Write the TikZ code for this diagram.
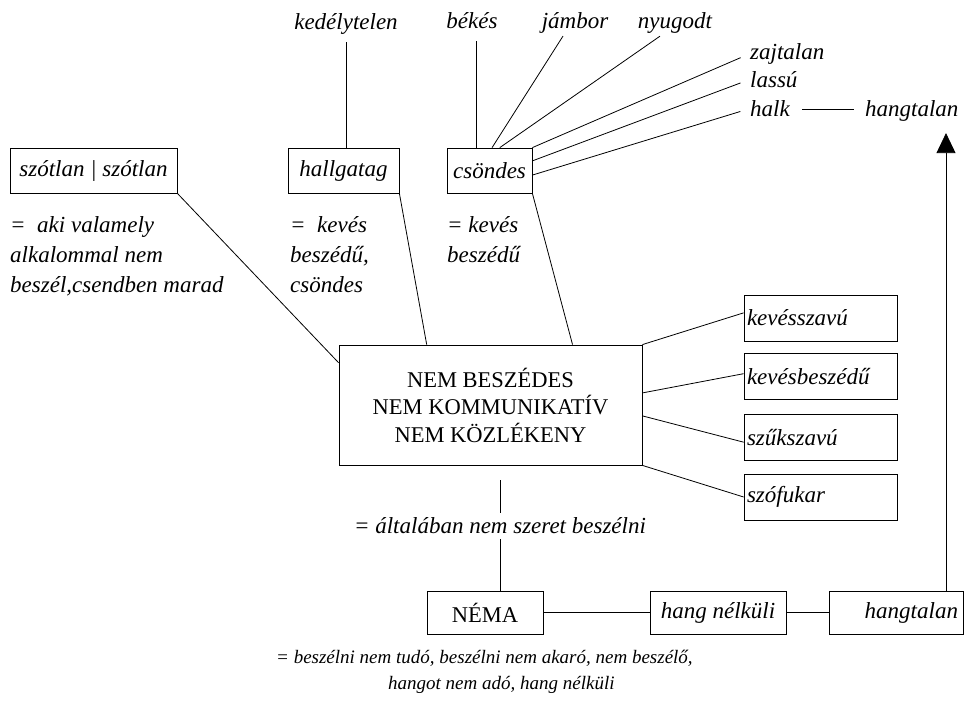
\documentclass[tikz,border=0pt]{standalone}
\usepackage{fontspec}
\setmainfont{Liberation Serif}
\usepackage{tikz}
\usetikzlibrary{positioning,calc,arrows.meta}

\begin{document}
\begin{tikzpicture}[y=-1pt,x=1pt,
	every node/.style={font=\fontsize{23}{28}\selectfont\itshape},
	wbox/.style={draw, line width=0.8pt, minimum height=45pt, inner sep=2pt},
	lbox/.style={wbox, text width=147pt, minimum height=46pt, align=left, inner xsep=3pt},
	word/.style={inner sep=2pt},
	note/.style={anchor=north west, align=left, inner sep=0pt, font=\fontsize{23}{30}\selectfont\itshape},
	caps/.style={font=\fontsize{22.5}{27.5}\selectfont\upshape},
	link/.style={line width=0.8pt}]
	\useasboundingbox (0,0) rectangle (964,711);

	\node [wbox, minimum width=167pt] (szotlan) at (93.5,170.5) {szótlan | szótlan};
	\node [wbox, minimum width=111pt] (hallgatag) at (343.5,170.5) {hallgatag};
	\node [wbox, minimum width=85pt] (csondes) at (489.5,170.5) {csöndes};

	\node [word, anchor=base] (kedely) at (346,30) {kedélytelen};
	\node [word, anchor=base] (bekes) at (472,29) {békés};
	\node [word, anchor=base] (jambor) at (575,29) {jámbor};
	\node [word, anchor=base] (nyugodt) at (675,29) {nyugodt};
	\node [word, anchor=base west] (zajtalan) at (748,60) {zajtalan};
	\node [word, anchor=base west] (lassu) at (748,88) {lassú};
	\node [word, anchor=base west] (halk) at (748,117) {halk};
	\node [word, anchor=base west] (hangtalan) at (863,117) {hangtalan};

	\node [note] (aki) at (10,216) {=\ \ aki valamely\\alkalommal nem\\beszél,csendben marad};
	\node [note] (keves1) at (290,216) {=\ \ kevés\\beszédű,\\csöndes};
	\node [note] (keves2) at (447,216) {= kevés\\beszédű};

	\node [draw, link, caps, minimum width=303pt, minimum height=120pt, align=center] (main) at (490.5,405) {NEM BESZÉDES\\NEM KOMMUNIKATÍV\\NEM KÖZLÉKENY};

	\node [lbox] (kevesszavu) at (820.5,318) {kevésszavú};
	\node [lbox] (kevesbeszedu) at (820.5,376.5) {kevésbeszédű};
	\node [lbox] (szukszavu) at (820.5,437.5) {szűkszavú};
	\node [lbox] (szofukar) at (820.5,497) {szófukar};

	\node [inner ysep=5pt] (altalaban) at (500,526) {= általában nem szeret beszélni};

	\node [wbox, caps, minimum width=116pt, minimum height=43pt] (nema) at (485,612.5) {NÉMA};
	\node [wbox, minimum width=136pt, minimum height=43pt] (hangnelkuli) at (718,612.5) {hang nélküli};
	\node [wbox, text width=124pt, align=right, inner xsep=5pt, minimum height=43pt] (hangtalanbox) at (896,612.5) {hangtalan};

	\node [note, font=\fontsize{19}{26}\selectfont\itshape] (definicio) at (276,650) {= beszélni nem tudó, beszélni nem akaró, nem beszélő,\\\hspace*{112pt}hangot nem adó, hang nélküli};

	\coordinate (cs1) at ($(csondes.north west)!0.35!(csondes.north east)$);
	\draw [link, shorten <=5pt] (kedely.south) -- (kedely.south |- hallgatag.north);
	\draw [link, shorten <=10pt] (bekes.south -| cs1) -- (cs1);
	\draw [link] ([xshift=-12pt]jambor.south) -- ($(csondes.north west)!0.53!(csondes.north east)$);
	\draw [link] ([xshift=-15pt]nyugodt.south) -- ($(csondes.north west)!0.62!(csondes.north east)$);
	\draw [link, shorten <=8pt] (zajtalan.west) -- (csondes.north east);
	\draw [link, shorten <=8pt] (lassu.west) -- ($(csondes.north east)!0.29!(csondes.south east)$);
	\draw [link, shorten <=8pt] (halk.west) -- ($(csondes.north east)!0.6!(csondes.south east)$);
	\draw [link, shorten <=10pt, shorten >=9pt] (halk.east) -- (halk.east -| hangtalan.west);

	\draw [link] (szotlan.south east) -- ($(main.north west)!0.15!(main.south west)$);
	\draw [link] (hallgatag.south east) -- ($(main.north west)!0.29!(main.north east)$);
	\draw [link] (csondes.south east) -- ($(main.north west)!0.77!(main.north east)$);

	\draw [link] (main.north east) -- ($(kevesszavu.north west)!0.39!(kevesszavu.south west)$);
	\draw [link] ($(main.north east)!0.4!(main.south east)$) -- ($(kevesbeszedu.north west)!0.44!(kevesbeszedu.south west)$);
	\draw [link] ($(main.north east)!0.59!(main.south east)$) -- ($(szukszavu.north west)!0.6!(szukszavu.south west)$);
	\draw [link] (main.south east) -- (szofukar.west);

	\draw [link] ([yshift=-15pt]main.south -| altalaban.north) -- (altalaban.north);
	\draw [link] (altalaban.south) -- (altalaban.south |- nema.north);
	\draw [link] (nema) -- (hangnelkuli);
	\draw [link] (hangnelkuli) -- (hangtalanbox);
	\draw [link, shorten >=9pt, -{Triangle[width=19pt,length=20pt]}] ([xshift=50pt]hangtalanbox.north) -- ([xshift=50pt]hangtalanbox.north |- hangtalan.south);
\end{tikzpicture}
\end{document}
